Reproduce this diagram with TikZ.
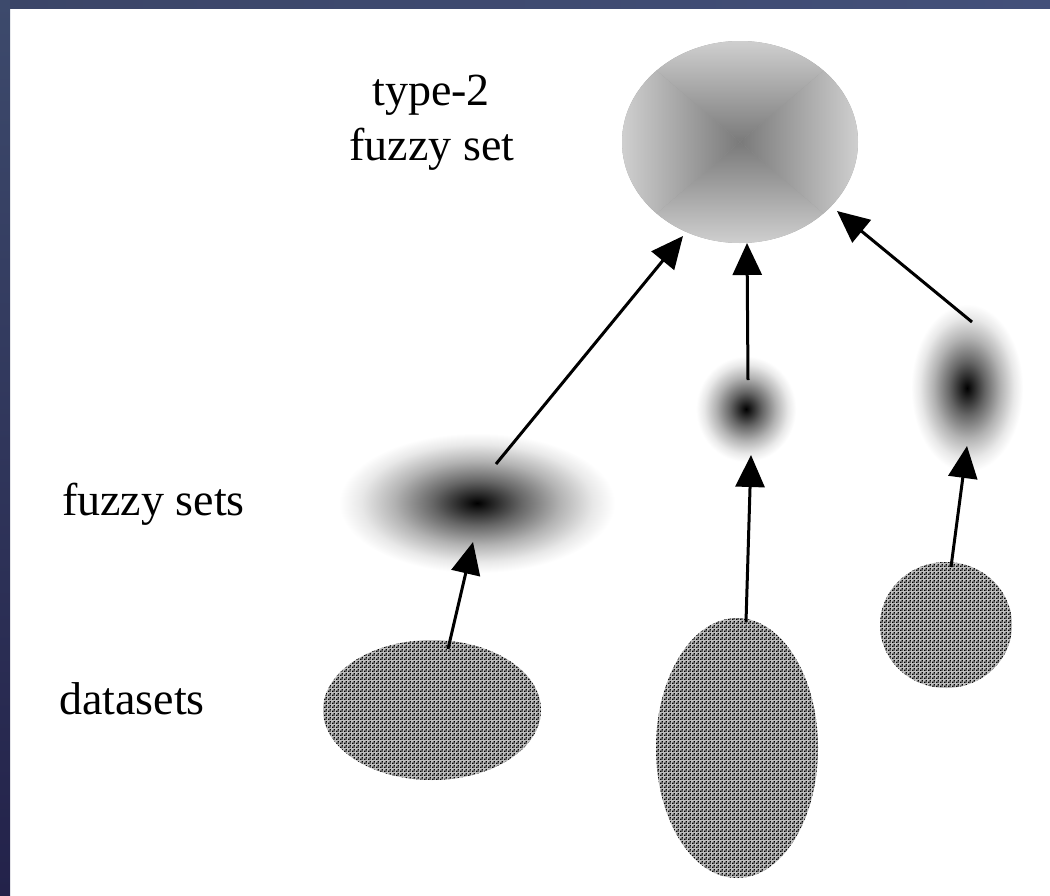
\documentclass[tikz,border=0pt]{standalone}
\usepackage{fontspec}
\setmainfont{Liberation Serif}
\usetikzlibrary{arrows.meta,shapes.geometric,patterns}

\definecolor{frameL}{HTML}{3B4567}
\definecolor{frameM}{HTML}{4F7181}
\definecolor{frameR}{HTML}{43507A}
\definecolor{sideT}{HTML}{3D4A6C}
\definecolor{sideM}{HTML}{4B6478}
\definecolor{sideB}{HTML}{23224A}
\definecolor{t2edge}{HTML}{CFCFCF}
\definecolor{t2core}{HTML}{7A7A7A}

% soft blob: black core fading out to white at the rim
\pgfdeclareradialshading{fuzzblob}{\pgfpoint{0bp}{0bp}}{%
  color(0bp)=(black); color(2bp)=(black!90); color(8bp)=(black!60);
  color(15bp)=(black!30); color(21bp)=(black!9); color(25bp)=(white);
  color(50bp)=(white)}

% fine dotted weave used for the data clouds
\pgfdeclarepatternformonly{weave}{\pgfpointorigin}{\pgfqpoint{4pt}{4pt}}{\pgfqpoint{4pt}{4pt}}{%
  \pgfpathrectangle{\pgfqpoint{0pt}{0pt}}{\pgfqpoint{1.6pt}{1.6pt}}%
  \pgfpathrectangle{\pgfqpoint{2pt}{2pt}}{\pgfqpoint{1.6pt}{1.6pt}}%
  \pgfpathrectangle{\pgfqpoint{2.4pt}{0.4pt}}{\pgfqpoint{0.9pt}{0.9pt}}%
  \pgfusepath{fill}}

\tikzset{
  label/.style={font=\fontsize{46}{55}\selectfont, inner sep=0pt, text=black},
  blob/.style={ellipse, draw=none, inner sep=0pt, shading=fuzzblob},
  cloud/.style={ellipse, draw=none, inner sep=0pt, fill=black!26},
  weavefill/.style={ellipse, draw=none, inner sep=0pt, pattern=weave, pattern color=black},
  arr/.style={line width=3pt, -{Triangle[length=32pt,width=29pt]}},
}

\begin{document}
\begin{tikzpicture}[x=1pt, y=-1pt]
\useasboundingbox (0,0) rectangle (1050,895);
\fill[white] (0,0) rectangle (1050,895);

% frame bands along the top and the left edge
\shade[left color=frameL, middle color=frameM, right color=frameR] (0,0) rectangle (1050,8);
\shade[top color=sideT, middle color=sideM, bottom color=sideB] (0,0) rectangle (10,895);

% type-2 fuzzy set: rectangular gradient clipped to an ellipse
\begin{scope}
  \clip (740,142) ellipse [x radius=118, y radius=101];
  \fill[black!40] (622,41) rectangle (858,243);
  \shade[top color=t2edge, bottom color=t2core] (622,41) -- (858,41) -- (740,142) -- cycle;
  \shade[top color=t2core, bottom color=t2edge] (622,243) -- (858,243) -- (740,142) -- cycle;
  \shade[left color=t2edge, right color=t2core] (622,41) -- (622,243) -- (740,142) -- cycle;
  \shade[left color=t2core, right color=t2edge] (858,41) -- (858,243) -- (740,142) -- cycle;
\end{scope}
\node[ellipse, draw=none, minimum width=236pt, minimum height=202pt, inner sep=0pt] (t2) at (740,142) {};

% fuzzy sets
\node[blob, minimum width=276pt, minimum height=140pt] (fs1) at (477,503) {};
\node[blob, minimum width=100pt, minimum height=106pt] (fs2) at (746,409) {};
\node[blob, minimum width=112pt, minimum height=168pt] (fs3) at (967,388) {};

% datasets
\node[cloud, minimum width=218pt, minimum height=140pt] (ds1) at (432,710) {};
\node[weavefill, minimum width=218pt, minimum height=140pt] at (432,710) {};
\node[cloud, minimum width=162pt, minimum height=260pt] (ds2) at (737,748) {};
\node[weavefill, minimum width=162pt, minimum height=260pt] at (737,748) {};
\node[cloud, minimum width=132pt, minimum height=126pt] (ds3) at (946,625) {};
\node[weavefill, minimum width=132pt, minimum height=126pt] at (946,625) {};

% connector end points
\coordinate (ds1out) at (448,649);
\coordinate (fs1in)  at (473,542);
\coordinate (fs1out) at (496,464);
\coordinate (t2inA)  at (683,236);
\coordinate (ds2out) at (746,622);
\coordinate (fs2in)  at (751,455);
\coordinate (fs2out) at (748,380);
\coordinate (t2inB)  at (747,243);
\coordinate (ds3out) at (951,567);
\coordinate (fs3in)  at (967,446);
\coordinate (fs3out) at (972,322);
\coordinate (t2inC)  at (837,211);

\draw[arr] (ds1out) -- (fs1in);
\draw[arr] (fs1out) -- (t2inA);
\draw[arr] (ds2out) -- (fs2in);
\draw[arr] (fs2out) -- (t2inB);
\draw[arr] (ds3out) -- (fs3in);
\draw[arr] (fs3out) -- (t2inC);

% labels
\node[label, anchor=base] (lt2a) at (431,105) {type-2};
\node[label, anchor=base] (lt2b) at (432,160) {fuzzy set};
\node[label, anchor=base west] (lfs) at (62,515) {fuzzy sets};
\node[label, anchor=base west] (lds) at (59,714) {datasets};
\end{tikzpicture}
\end{document}
